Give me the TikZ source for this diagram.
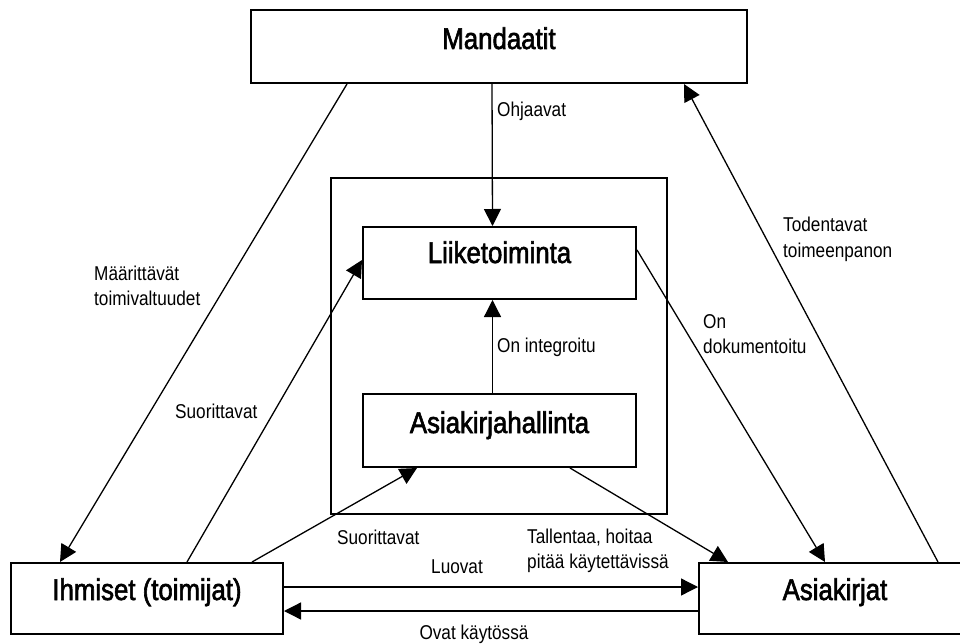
\documentclass[tikz,border=0pt]{standalone}
\usepackage{fontspec}
\setmainfont{Liberation Sans}[FakeStretch=0.86]
\newfontfamily\boxfont{Liberation Sans}[FakeStretch=0.86,FakeBold=2]
\usetikzlibrary{arrows.meta}

% two-line left-aligned label whose baseline is that of its first line
\newcommand{\twolines}[2]{\begin{tabular}[t]{@{}l@{}}#1\\#2\end{tabular}}

\begin{document}
\begin{tikzpicture}[x=1pt,y=-1pt,
  box/.style={draw,rectangle,line width=2pt,inner sep=0pt,minimum width=#1},
  boxtext/.style={anchor=base,inner sep=0pt,font=\boxfont\fontsize{30}{32}\selectfont},
  lbl/.style={anchor=base west,inner sep=0pt,font=\fontsize{20}{25}\selectfont},
  conn/.style={line width=1.3pt,-{Triangle[length=17pt,width=17pt]}}]
\useasboundingbox (0,0) rectangle (960,644);

% boxes
\node[box=496pt,minimum height=73pt] (mand) at (499,46.5) {};
\node[draw,rectangle,line width=1.8pt,inner sep=0pt,minimum width=336pt,minimum height=336pt] (frame) at (499,346) {};
\node[box=273pt,minimum height=72pt] (liike) at (499.5,263) {};
\node[box=273pt,minimum height=73pt] (ahall) at (499.5,430.5) {};
\node[box=272pt,minimum height=71pt] (ihm) at (147,598.5) {};
\node[box=272pt,minimum height=71pt] (asia) at (835,598.5) {};

% box titles
\node[boxtext] (tmand) at ([yshift=-40pt]mand.north) {Mandaatit};
\node[boxtext] (tliike) at ([yshift=-37pt]liike.north) {Liiketoiminta};
\node[boxtext] (tahall) at ([yshift=-40pt]ahall.north) {Asiakirjahallinta};
\node[boxtext] (tihm) at ([yshift=-38pt]ihm.north) {Ihmiset (toimijat)};
\node[boxtext] (tasia) at ([yshift=-38pt]asia.north) {Asiakirjat};

% connectors
\draw[conn] ([xshift=-7pt]mand.south) -- ([xshift=-7pt]liike.north);
\draw[conn] ([xshift=-7pt]ahall.north) -- ([xshift=-7pt]liike.south);
\draw[conn] ([xshift=-152pt]mand.south) -- ([xshift=-87pt]ihm.north);
\draw[conn] ([xshift=40pt]ihm.north) -- ([yshift=3pt]liike.west);
\draw[conn] ([xshift=105pt]ihm.north) -- ([xshift=-82.5pt]ahall.south);
\draw[conn] ([yshift=13pt]liike.east) -- ([xshift=-10pt]asia.north);
\draw[conn] ([xshift=70.5pt]ahall.south) -- ([xshift=-107pt]asia.north);
\draw[conn] ([xshift=103pt]asia.north) -- ([xshift=185pt]mand.south);
\draw[conn] ([yshift=11.5pt]ihm.east) -- ([yshift=11.5pt]asia.west);
\draw[conn] ([yshift=-12.5pt]asia.west) -- ([yshift=-12.5pt]ihm.east);

% connector labels
\node[lbl] (lohj) at (497,117) {Ohjaavat};
\node[lbl] (lmaar) at (94,280) {\twolines{Määrittävät}{toimivaltuudet}};
\node[lbl] (lsuor1) at (175,418) {Suorittavat};
\node[lbl] (linteg) at (497,352) {On integroitu};
\node[lbl] (ldok) at (703,328) {\twolines{On}{dokumentoitu}};
\node[lbl] (ltod) at (783,232) {\twolines{Todentavat}{toimeenpanon}};
\node[lbl] (lsuor2) at (337,544) {Suorittavat};
\node[lbl] (ltall) at (527,543) {\twolines{Tallentaa, hoitaa}{pitää käytettävissä}};
\node[lbl] (lluov) at (431,573) {Luovat};
\node[lbl,anchor=base] (lovat) at (474,639) {Ovat käytössä};
\end{tikzpicture}
\end{document}
